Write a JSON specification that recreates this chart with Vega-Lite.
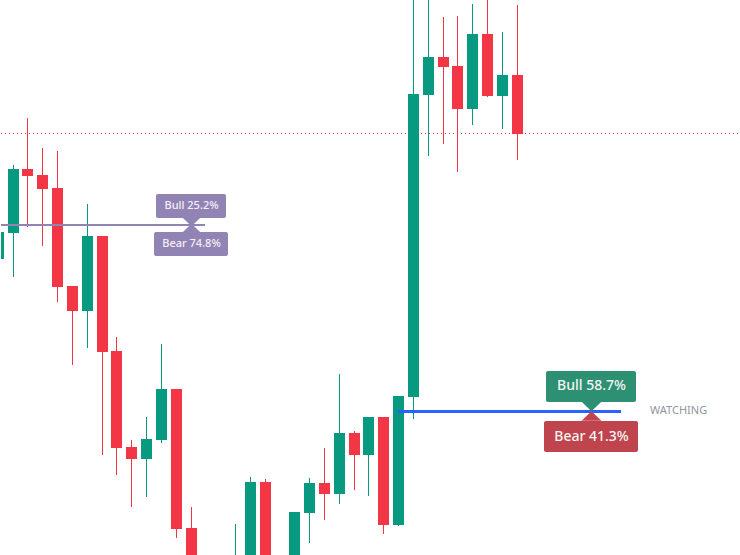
{
  "$schema": "https://vega.github.io/schema/vega-lite/v6.json",
  "width": 740,
  "height": 555,
  "autosize": {"type": "fit", "contains": "padding"},
  "padding": 0,
  "background": "white",
  "config": {"view": {"stroke": null}},
  "datasets": {
    "candles": [
      {"bar": -1, "open": 129.6, "high": 133.0, "low": 128.0, "close": 132.3},
      {"bar": 0, "open": 132.2, "high": 139.0, "low": 127.8, "close": 138.6},
      {"bar": 1, "open": 138.6, "high": 143.7, "low": 132.8, "close": 137.9},
      {"bar": 2, "open": 138.0, "high": 140.7, "low": 130.9, "close": 136.6},
      {"bar": 3, "open": 136.7, "high": 140.4, "low": 125.3, "close": 126.8},
      {"bar": 4, "open": 126.9, "high": 126.9, "low": 119.0, "close": 124.4},
      {"bar": 5, "open": 124.4, "high": 135.1, "low": 120.7, "close": 131.9},
      {"bar": 6, "open": 131.9, "high": 131.9, "low": 110.0, "close": 120.3},
      {"bar": 7, "open": 120.4, "high": 121.8, "low": 108.0, "close": 110.7},
      {"bar": 8, "open": 110.8, "high": 111.5, "low": 104.8, "close": 109.6},
      {"bar": 9, "open": 109.6, "high": 113.8, "low": 105.8, "close": 111.6},
      {"bar": 10, "open": 111.5, "high": 121.1, "low": 111.2, "close": 116.6},
      {"bar": 11, "open": 116.6, "high": 116.6, "low": 101.7, "close": 102.6},
      {"bar": 12, "open": 102.7, "high": 104.8, "low": 97.0, "close": 98.0},
      {"bar": 15, "open": 98.0, "high": 103.1, "low": 97.0, "close": 99.0},
      {"bar": 16, "open": 99.0, "high": 107.8, "low": 98.0, "close": 107.3},
      {"bar": 17, "open": 107.3, "high": 107.6, "low": 98.0, "close": 99.0},
      {"bar": 19, "open": 99.0, "high": 104.3, "low": 98.0, "close": 104.3},
      {"bar": 20, "open": 104.2, "high": 107.7, "low": 101.2, "close": 107.2},
      {"bar": 21, "open": 107.2, "high": 110.7, "low": 103.5, "close": 106.1},
      {"bar": 22, "open": 106.1, "high": 118.1, "low": 105.1, "close": 112.2},
      {"bar": 23, "open": 112.2, "high": 112.4, "low": 106.5, "close": 110.0},
      {"bar": 24, "open": 110.0, "high": 113.8, "low": 105.9, "close": 113.8},
      {"bar": 25, "open": 113.8, "high": 113.8, "low": 102.1, "close": 103.0},
      {"bar": 26, "open": 103.0, "high": 115.9, "low": 102.9, "close": 115.9},
      {"bar": 27, "open": 115.8, "high": 156.0, "low": 113.6, "close": 146.1},
      {"bar": 28, "open": 146.0, "high": 156.0, "low": 139.9, "close": 149.8},
      {"bar": 29, "open": 149.8, "high": 153.8, "low": 141.1, "close": 148.8},
      {"bar": 30, "open": 148.9, "high": 153.9, "low": 138.3, "close": 144.6},
      {"bar": 31, "open": 144.6, "high": 155.1, "low": 143.0, "close": 152.1},
      {"bar": 32, "open": 152.1, "high": 156.0, "low": 145.8, "close": 145.9},
      {"bar": 33, "open": 145.9, "high": 152.3, "low": 142.6, "close": 148.0},
      {"bar": 34, "open": 148.0, "high": 155.0, "low": 139.5, "close": 142.1}
    ],
    "levels": [
      {"zone": "purple", "from": -0.78, "to": 13, "price": 133.0},
      {"zone": "blue", "from": 26, "to": 41, "price": 114.35}
    ],
    "boxes": [
      {"box": "A bull", "label": "Bull 25.2%", "left": 9.642, "right": 14.417, "top": 136.1, "bottom": 133.7, "center": 12, "mid": 134.9, "tip": 133.35, "dir": "down"},
      {"box": "A bear", "label": "Bear 74.8%", "left": 9.508, "right": 14.552, "top": 132.3, "bottom": 129.9, "center": 12, "mid": 131.1, "tip": 132.65, "dir": "up"},
      {"box": "B bull", "label": "Bull 58.7%", "left": 35.94, "right": 42.06, "top": 118.4, "bottom": 115.3, "center": 39, "mid": 116.95, "tip": 114.85, "dir": "down"},
      {"box": "B bear", "label": "Bear 41.3%", "left": 35.81, "right": 42.2, "top": 113.4, "bottom": 110.3, "center": 39, "mid": 111.85, "tip": 113.9, "dir": "up"}
    ]
  },
  "data": {"name": "candles"},
  "encoding": {
    "x": {"field": "bar", "type": "quantitative", "scale": {"domain": [-0.7836, 48.99], "padding": 0, "round": true}, "axis": null},
    "y": {"type": "quantitative", "scale": {"domain": [100, 155.5]}, "axis": null}
  },
  "resolve": {"scale": {"size": "independent", "strokeWidth": "independent"}},
  "layer": [
    {
      "data": {"values": [{"price": 142.15, "from": -0.7836, "to": 48.99}]},
      "mark": {"type": "rule", "stroke": "#F23645", "strokeWidth": 1, "strokeDash": [1, 3]},
      "encoding": {"x": {"field": "from"}, "x2": {"field": "to"}, "y": {"field": "price"}}
    },
    {
      "mark": {"type": "rule", "strokeWidth": 1, "clip": true, "xOffset": 0.5},
      "encoding": {
        "y": {"field": "low"},
        "y2": {"field": "high"},
        "color": {"condition": {"test": "datum.close >= datum.open", "value": "#089981"}, "value": "#F23645"}
      }
    },
    {
      "mark": {"type": "bar", "width": 11, "clip": true, "xOffset": 0.5},
      "encoding": {
        "y": {"field": "open"},
        "y2": {"field": "close"},
        "color": {"condition": {"test": "datum.close >= datum.open", "value": "#089981"}, "value": "#F23645"}
      }
    },
    {
      "data": {"name": "levels"},
      "mark": {"type": "rule", "clip": true},
      "encoding": {
        "x": {"field": "from"},
        "x2": {"field": "to"},
        "y": {"field": "price"},
        "stroke": {"field": "zone", "type": "nominal", "scale": {"domain": ["purple", "blue"], "range": ["#9184B5", "#2962FF"]}, "legend": null},
        "strokeWidth": {"field": "zone", "type": "nominal", "scale": {"domain": ["purple", "blue"], "range": [2, 3]}, "legend": null}
      }
    },
    {
      "data": {"name": "boxes"},
      "transform": [{"filter": "datum.dir == 'down'"}],
      "mark": {"type": "point", "filled": true, "opacity": 1, "xOffset": 0.5, "shape": "M-1,-0.47 L1,-0.47 L0,0.47 Z"},
      "encoding": {
        "x": {"field": "center"},
        "y": {"field": "tip"},
        "color": {"field": "box", "type": "nominal", "scale": {"domain": ["A bull", "A bear", "B bull", "B bear"], "range": ["#9183B4", "#9183B4", "#2D9073", "#BF444E"]}, "legend": null},
        "size": {"field": "box", "type": "nominal", "scale": {"domain": ["A bull", "A bear", "B bull", "B bear"], "range": [392, 392, 800, 800]}, "legend": null}
      }
    },
    {
      "data": {"name": "boxes"},
      "transform": [{"filter": "datum.dir == 'up'"}],
      "mark": {"type": "point", "filled": true, "opacity": 1, "xOffset": 0.5, "shape": "M-1,0.47 L1,0.47 L0,-0.47 Z"},
      "encoding": {
        "x": {"field": "center"},
        "y": {"field": "tip"},
        "color": {"field": "box", "type": "nominal", "scale": {"domain": ["A bull", "A bear", "B bull", "B bear"], "range": ["#9183B4", "#9183B4", "#2D9073", "#BF444E"]}, "legend": null},
        "size": {"field": "box", "type": "nominal", "scale": {"domain": ["A bull", "A bear", "B bull", "B bear"], "range": [392, 392, 800, 800]}, "legend": null}
      }
    },
    {
      "data": {"name": "boxes"},
      "mark": {"type": "rect", "cornerRadius": 2},
      "encoding": {
        "x": {"field": "left"},
        "x2": {"field": "right"},
        "y": {"field": "top"},
        "y2": {"field": "bottom"},
        "color": {"field": "box", "type": "nominal", "scale": {"domain": ["A bull", "A bear", "B bull", "B bear"], "range": ["#9183B4", "#9183B4", "#2D9073", "#BF444E"]}, "legend": null}
      }
    },
    {
      "data": {"name": "boxes"},
      "transform": [{"filter": "datum.left < 20"}],
      "mark": {"type": "text", "align": "center", "baseline": "middle", "font": "Noto Sans", "fontWeight": 500, "fontSize": 11, "xOffset": 0.5, "color": "#F2F0F5"},
      "encoding": {
        "x": {"field": "center"},
        "y": {"field": "mid"},
        "text": {"field": "label"}
      }
    },
    {
      "data": {"name": "boxes"},
      "transform": [{"filter": "datum.left > 20"}],
      "mark": {"type": "text", "align": "center", "baseline": "middle", "font": "Noto Sans", "fontWeight": 500, "fontSize": 14, "xOffset": 0.5, "color": "#F5F5F2"},
      "encoding": {
        "x": {"field": "center"},
        "y": {"field": "mid"},
        "text": {"field": "label"}
      }
    },
    {
      "data": {"values": [{"status": "WATCHING", "bar": 43, "price": 114.4}]},
      "mark": {"type": "text", "align": "left", "baseline": "middle", "font": "Noto Sans", "fontSize": 11, "color": "#9195A0"},
      "encoding": {
        "x": {"field": "bar"},
        "y": {"field": "price"},
        "text": {"field": "status"}
      }
    }
  ]
}
